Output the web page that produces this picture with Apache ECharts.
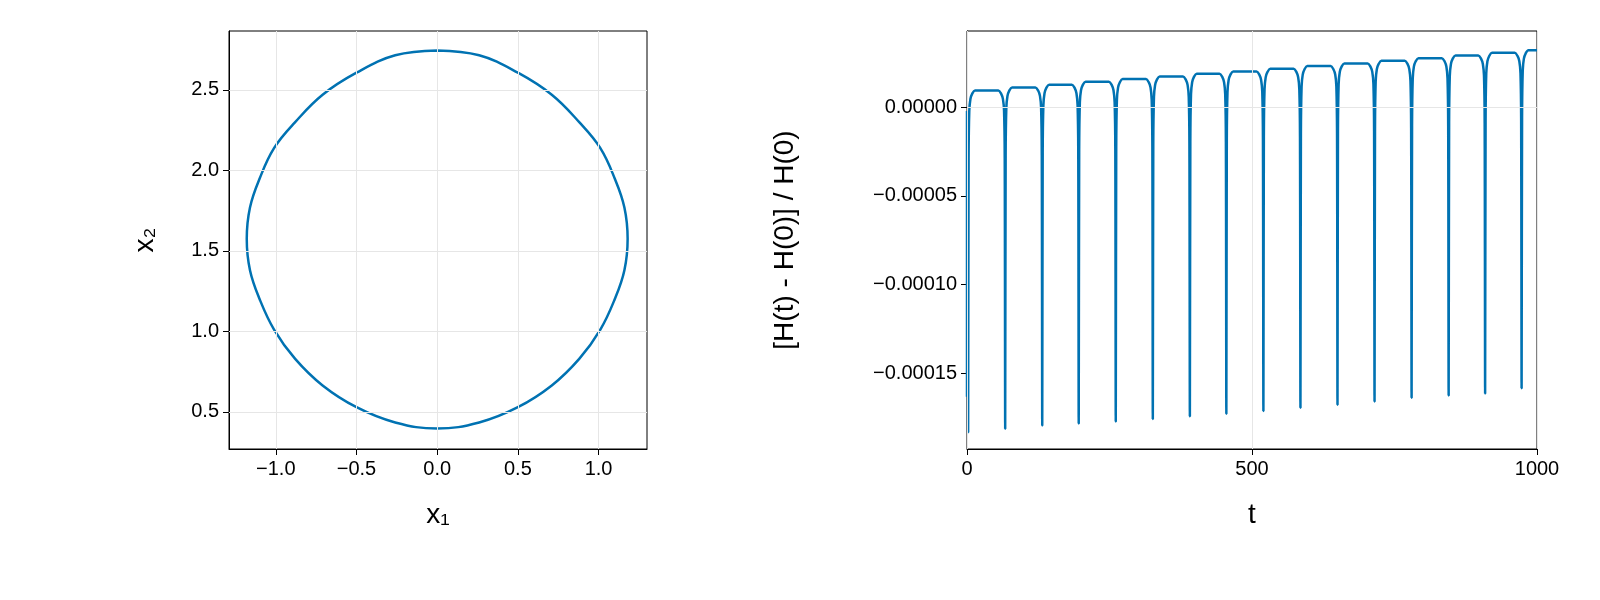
<!DOCTYPE html>
<html><head><meta charset="utf-8">
<script src="https://cdn.jsdelivr.net/npm/echarts@6/dist/echarts.min.js"></script>
<style>html,body{margin:0;padding:0;background:#fff}#c{width:1600px;height:600px}</style>
</head><body><div id="c"></div>
<script>
// Left: phase portrait points (x1, x2)
const loopX1 = [0, 0.26, 0.50, 0.71, 0.88, 1.01, 1.10, 1.16, 1.18, 1.16, 1.10, 1.01, 0.88, 0.71, 0.50, 0.26, 0, -0.26, -0.50, -0.71, -0.88, -1.01, -1.10, -1.16, -1.18, -1.16, -1.10, -1.01, -0.88, -0.71, -0.50, -0.26, 0];
const loopX2 = [2.745, 2.715, 2.607, 2.47, 2.30, 2.14, 1.95, 1.77, 1.575, 1.38, 1.20, 1.01, 0.83, 0.665, 0.53, 0.435, 0.397, 0.435, 0.53, 0.665, 0.83, 1.01, 1.20, 1.38, 1.575, 1.77, 1.95, 2.14, 2.30, 2.47, 2.607, 2.715, 2.745];
const leftXTicks = [-1.0, -0.5, 0.0, 0.5, 1.0];
const leftYTicks = [0.5, 1.0, 1.5, 2.0, 2.5];
// Right: relative energy error
const spikeT = [2, 67, 132, 196, 261, 326, 391, 455, 520, 585, 650, 715, 780, 845, 909, 973];
const spikeDepth = [-0.0001833, -0.0001814, -0.0001795, -0.0001784, -0.0001773, -0.0001759, -0.0001744, -0.0001729, -0.0001714, -0.0001695, -0.0001679, -0.000166, -0.0001639, -0.0001626, -0.0001615, -0.0001585];
const plateau = [9.4e-6, 11.1e-6, 12.6e-6, 14.3e-6, 15.8e-6, 17.3e-6, 18.8e-6, 20.1e-6, 21.6e-6, 23.1e-6, 24.6e-6, 26.1e-6, 27.6e-6, 29.1e-6, 30.6e-6, 32.1e-6];
// dip shape near each spike: time offsets and the fraction of the plateau-to-spike drop
const dipOffset = [-12, -7, -4, -2, -0.8, 0, 0.8, 2, 4, 7, 12];
const dipFrac   = [0.0, 0.01, 0.025, 0.06, 0.2, 1, 0.2, 0.06, 0.025, 0.01, 0.0];
const rightXTicks = [0, 500, 1000];
const rightYTicks = [0, -0.00005, -0.0001, -0.00015];

const loop = loopX1.map((x, i) => [x, loopX2[i]]);
const err = [];
for (let k = 0; k < spikeT.length; k++) {
  const prev = k > 0 ? plateau[k - 1] : plateau[0];
  for (let j = 0; j < dipOffset.length; j++) {
    const t = spikeT[k] + dipOffset[j];
    if (t < 0 || t > 1000) continue;
    const base = dipOffset[j] < 0 ? prev : plateau[k];
    err.push([t, base + (spikeDepth[k] - base) * dipFrac[j]]);
  }
}
err.unshift([0, spikeDepth[0] + 0.00002]);
err.push([1000, plateau[plateau.length - 1]]);

const minus = s => s.replace('-', '\u2212');
const font = 'Liberation Sans, Arial, sans-serif';
const gridColor = '#e6e6e6';
function axis(o, ticks, fmt) {
  return Object.assign({
    type: 'value',
    axisLine: {show: true, onZero: false, lineStyle: {color: '#000', width: 1}},
    axisTick: {show: true, inside: false, length: 6, customValues: ticks, lineStyle: {color: '#000', width: 1}},
    axisLabel: {color: '#000', fontSize: 20, fontFamily: font, customValues: ticks, formatter: fmt, margin: 10},
    splitLine: {show: false},
    nameLocation: 'middle',
    nameTextStyle: {color: '#000', fontFamily: font, fontSize: 28}
  }, o);
}
function gridLines(xs, ys) {
  return {silent: true, symbol: 'none', label: {show: false}, lineStyle: {color: gridColor, type: 'solid', width: 1},
    data: xs.map(v => ({xAxis: v})).concat(ys.map(v => ({yAxis: v})))};
}
const chart = echarts.init(document.getElementById('c'));
chart.setOption({
  animation: false,
  backgroundColor: '#fff',
  grid: [
    {left: 229, top: 31, width: 418, height: 418, show: true, borderColor: '#000', borderWidth: 1},
    {left: 967, top: 31, width: 570, height: 418, show: true, borderColor: '#000', borderWidth: 1}
  ],
  xAxis: [
    axis({gridIndex: 0, min: -1.29, max: 1.30, name: 'x\u2081', nameGap: 52}, leftXTicks, v => minus(v.toFixed(1))),
    axis({gridIndex: 1, min: 0, max: 1000, name: 't', nameGap: 52}, rightXTicks, v => String(v))
  ],
  yAxis: [
    axis({gridIndex: 0, min: 0.27, max: 2.866, name: 'x\u2082', nameGap: 70}, leftYTicks, v => v.toFixed(1)),
    axis({gridIndex: 1, min: -0.0001928, max: 0.0000429, name: '[H(t) - H(0)] / H(0)', nameGap: 168}, rightYTicks, v => minus(v.toFixed(5)))
  ],
  series: [
    {type: 'line', xAxisIndex: 0, yAxisIndex: 0, data: loop, smooth: 0.4, showSymbol: false,
      lineStyle: {color: '#0072b2', width: 2.5}, markLine: gridLines(leftXTicks, leftYTicks), z: 3},
    {type: 'line', xAxisIndex: 1, yAxisIndex: 1, data: err, smooth: 0.3, showSymbol: false,
      lineStyle: {color: '#0072b2', width: 2.5}, markLine: gridLines(rightXTicks, rightYTicks), z: 3}
  ]
});
</script></body></html>
